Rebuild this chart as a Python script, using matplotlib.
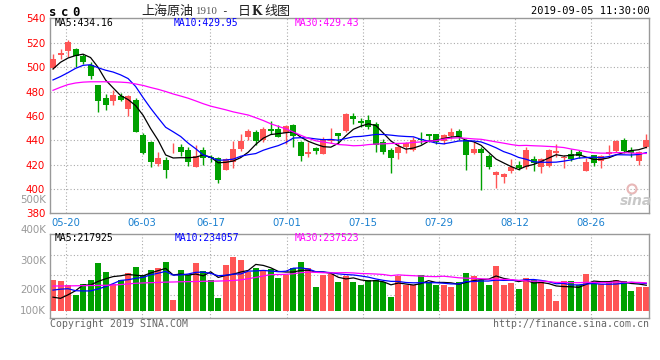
import numpy as np
import pandas as pd
import matplotlib
matplotlib.use('Agg')
import matplotlib.pyplot as plt
from matplotlib.patches import Ellipse

# daily candles 05-16 .. 09-05 (80 trading days)
opens = [499.2, 510, 513, 515.3, 509.4, 501.5, 485, 474.3, 472.4, 476.5,
         465.4, 473, 444.2, 438.7, 420.5, 423.7, 434.3, 434.1, 432, 418.3,
         432, 426.2, 425.1, 415.5, 421.8, 432.7, 442.8, 446.6, 440.1, 449.1,
         449.1, 446.1, 452.3, 438.7, 428.9, 433.3, 428.9, 439.5, 445.8, 447.4,
         459.7, 455.6, 456.4, 453.7, 438.7, 431.9, 429.2, 434.1, 431.9, 441.4,
         445, 445, 439.5, 443.4, 447.4, 440.1, 429.7, 433, 427.3, 411.4,
         409.5, 414.7, 419.6, 417.7, 424.3, 418.3, 418.8, 429.4, 425.6, 428.6,
         430.3, 415, 427.8, 423.2, 428.6, 431.1, 440.1, 431.9, 423.2, 434.6]
highs = [511, 515, 522, 515.5, 511, 504, 485.5, 477.6, 481, 478.4,
         477, 475, 445.8, 439.5, 430.3, 426, 437.4, 436.8, 434.1, 436,
         434.1, 428, 426.5, 425.1, 439.5, 445.5, 449.6, 448.3, 451, 455.6,
         452.3, 452.3, 453.7, 439, 438.7, 434.6, 442.8, 450.2, 446, 462.4,
         462.4, 458.4, 460.5, 455.1, 441.4, 433.3, 437.4, 438.7, 442.8, 446.6,
         445.2, 445.5, 445.5, 450.2, 449.1, 441.4, 438.7, 434.1, 428.6, 415,
         413.4, 424.3, 423.2, 434.1, 427, 425.1, 432.5, 436.8, 427.8, 432.5,
         431.9, 425.1, 428, 427.8, 436, 440.1, 442, 434.6, 430.8, 445]
lows = [498.5, 507, 508.3, 500, 502.5, 490.5, 463.2, 464.8, 468.9, 472.2,
        460.2, 447, 428.6, 418.2, 419.1, 408.8, 429.7, 427.3, 418.8, 417.7,
        419.4, 422, 405.2, 415.3, 417.5, 431, 440.1, 436, 438.7, 445.5,
        442.8, 437.3, 434.1, 423.2, 426.5, 428.4, 428.5, 437.9, 437.3, 446.9,
        453.7, 451, 449.6, 430.5, 428.6, 412.8, 424.3, 429.2, 431, 437.3,
        438.7, 437.3, 436.8, 441.4, 440.1, 415.5, 428.6, 399.2, 416.4, 400.5,
        405.2, 412.8, 415.5, 416.1, 415, 413.4, 418.3, 426.5, 417.4, 422.9,
        425.1, 414.5, 418.8, 417.4, 427.8, 430.5, 429.2, 426.5, 419.6, 433.3]
closes = [506.3, 512, 521, 509.4, 504.5, 492.5, 472, 469, 477, 473,
          476, 447.2, 429.2, 422.5, 425.1, 415.8, 434.8, 430.3, 422.4, 427.3,
          425.1, 425.5, 407.4, 424.3, 432.5, 439.3, 447.7, 439.5, 449.6, 447.4,
          443, 451.5, 443.4, 427.3, 430.5, 431.1, 441.4, 441.4, 443.4, 461.4,
          457.5, 454.3, 451, 436, 430, 425.6, 434.6, 437.4, 440.6, 440.1,
          443.4, 438.7, 444.2, 446.9, 442.3, 427.8, 432.7, 429.7, 418.3, 414.2,
          412.3, 417.7, 417.4, 431.9, 421.5, 424.3, 431.9, 431.1, 426.5, 424.6,
          427, 421.8, 421.5, 427, 430.5, 439.5, 431.1, 429.7, 430.5, 440.1]
volumes = [261, 252, 218, 133, 227, 261, 405, 329, 227, 261,
           320, 371, 303, 346, 363, 414, 91, 346, 303, 405,
           337, 261, 108, 388, 456, 431, 329, 363, 346, 354,
           278, 303, 363, 414, 363, 201, 303, 308, 244, 295,
           244, 218, 261, 261, 244, 116, 295, 218, 218, 303,
           244, 218, 218, 201, 244, 320, 295, 261, 218, 382,
           218, 235, 184, 278, 261, 244, 184, 85, 252, 252,
           218, 312, 225, 225, 252, 261, 252, 167, 201, 201]  # thousands

ma5_head = [498.5, 504, 507.5, 509.5]
ma10_head = [489.5, 492.3, 495.5, 499, 501.5, 502, 499.5, 497.5, 496]
ma30_head = [481, 483.5, 485.7, 487, 487.7, 488, 488, 488, 487.9, 487.7,
             487.3, 486.2, 485, 483.3, 481.8, 480, 478, 476.3, 474.5, 472.3,
             470, 468, 466.5, 465, 463.3, 462, 460.7, 458.5, 456.2]
vma5_head = [115, 105, 135, 170]
vma10_head = [175, 183, 187, 170, 168, 168, 185, 205, 230]
vma30_head = [210, 210, 211, 212, 213, 214, 215, 216, 218, 222,
              228, 233, 236, 238, 240, 243, 244, 246, 247, 248,
              250, 251, 252, 254, 257, 262, 272, 283, 295]

# latest MA values as printed on the chart
price_ma_text = ['MA5:434.16', 'MA10:429.95', 'MA30:429.43']
vol_ma_text = ['MA5:217925', 'MA10:234057', 'MA30:237523']

date_labels = ['05-20', '06-03', '06-17', '07-01', '07-15', '07-29', '08-12', '08-26']
date_idx = [2, 12, 21, 31, 41, 51, 61, 71]
price_ticks = [380, 400, 420, 440, 460, 480, 500, 520, 540]


def with_head(values, n, head):
    s = pd.Series(values, dtype=float).rolling(n).mean().to_numpy()
    s[:len(head)] = head
    return s


RED = '#ff5555'
GREEN = '#00a000'
GRID = '#aaaaaa'
BORDER = '#999999'
MONO = 'DejaVu Sans Mono'
MA_COLORS = ['black', '#0000ff', '#ff00ff']

o = np.array(opens); h = np.array(highs); l = np.array(lows); c = np.array(closes)
vol = np.array(volumes) * 1000.0
x = np.arange(len(c))
up = c >= o
cols = np.where(up, RED, GREEN)

ma5 = with_head(c, 5, ma5_head)
ma10 = with_head(c, 10, ma10_head)
ma30 = with_head(c, 30, ma30_head)
vma5 = with_head(vol, 5, np.array(vma5_head) * 1000)
vma10 = with_head(vol, 10, np.array(vma10_head) * 1000)
vma30 = with_head(vol, 30, np.array(vma30_head) * 1000)

fig = plt.figure(figsize=(6.6, 3.6), dpi=100)
W, H = 660.0, 360.0


def P(px, py):
    return px / W, 1 - py / H


ax = fig.add_axes([50 / W, 1 - 213.4 / H, 599.3 / W, 195 / H])
axv = fig.add_axes([50 / W, 1 - 318.3 / H, 599.3 / W, 84 / H])

# grid positions of the date lines (sina spaces them slightly wider than candles)
grid_x = 1.7 + (np.array(date_idx) - 2) * 1.014

for a in (ax, axv):
    a.set_xlim(-0.4, 79.4)
    for s in a.spines.values():
        s.set_color(BORDER)
        s.set_linewidth(1.0)
    for gx in grid_x:
        a.axvline(gx, color=GRID, lw=0.8, ls=(0, (1, 2)), zorder=0)

# price panel
ax.set_ylim(380, 540)
for p in price_ticks[1:-1]:
    ax.axhline(p, color=GRID, lw=0.8, ls=(0, (1, 2)), zorder=0)
ax.vlines(x, l, h, colors=cols, lw=1.0, zorder=2)
body = np.maximum(np.abs(c - o), 0.5)
ax.bar(x, body, bottom=np.minimum(o, c), width=0.8, color=cols, lw=0, zorder=3)
for line, col in zip((ma5, ma10, ma30), MA_COLORS):
    ax.plot(x, line, color=col, lw=0.9, zorder=4)

ax.set_yticks(price_ticks)
ax.set_yticklabels([str(t) for t in price_ticks], color='#ff0000', fontsize=7.4)
ax.set_xticks(grid_x)
ax.set_xticklabels(date_labels, color='#1a80d0', fontsize=7.2)
ax.tick_params(length=0, pad=3)
ax.tick_params(axis='y', pad=3.5)

for txt, col, px in zip(price_ma_text, MA_COLORS, [55, 174, 295]):
    fig.text(*P(px, 23.5), txt, color=col, family=MONO, fontsize=7, va='center')

# volume panel
span = 8500.0
y0, y1 = -7.6 * span, 76.4 * span
axv.set_ylim(y0, y1)
for fr in (0.274, 0.512, 0.754):
    axv.axhline(y0 + fr * (y1 - y0), color=GRID, lw=0.8, ls=(0, (1, 2)), zorder=0)
axv.bar(x, vol, width=0.8, color=cols, lw=0, zorder=2)
for line, col in zip((vma5, vma10, vma30), MA_COLORS):
    axv.plot(x, line, color=col, lw=0.9, zorder=3)
axv.set_xticks([])
axv.set_yticks([])

for txt, col, px in zip(vol_ma_text, MA_COLORS, [55, 175, 295]):
    fig.text(*P(px, 238.3), txt, color=col, family=MONO, fontsize=7, va='center')

# volume scale labels as sina prints them
for lab, py in [('500K', 200), ('400K', 230.5), ('300K', 261.3), ('200K', 290.3), ('100K', 310.7)]:
    fig.text(*P(46, py), lab, color='#999999', fontsize=7.4, ha='right', va='center')

# header
for ch, px in zip('sc0', [49, 61, 72.5]):
    fig.text(*P(px, 12), ch, family=MONO, fontweight='bold', fontsize=8.8, va='center')
cjk = ['Noto Sans CJK SC', 'DejaVu Sans']
fig.text(*P(141.5, 11.5), '上海原油', family=cjk, fontsize=9.4, va='center', color='#222222')
fig.text(*P(195, 11.5), '1910', family='Liberation Serif', fontsize=7.8, va='center', color='#555555')
fig.text(*P(221, 11.5), '-', family=MONO, fontsize=8, va='center', color='#222222')
fig.text(*P(238, 11.5), '日', family=cjk, fontsize=9.4, va='center', color='#222222')
fig.text(*P(251.5, 11.5), 'K', family='DejaVu Serif', fontweight='bold', fontsize=8.5, va='center', color='#222222')
fig.text(*P(264, 11.5), '线图', family=cjk, fontsize=9.4, va='center', color='#222222')
fig.text(*P(649.5, 11.5), '2019-09-05 11:30:00', family=MONO, fontsize=7.5, ha='right', va='center')

# footer
fig.text(*P(50, 323.7), 'Copyright 2019 SINA.COM', family=MONO, fontsize=7.1, color='#666666', va='center')
fig.text(*P(649.5, 323.7), 'http://finance.sina.com.cn', family=MONO, fontsize=7.1,
         color='#666666', ha='right', va='center')

# sina watermark
fig.text(*P(636, 201), 'sina', fontsize=10, fontweight='bold', style='italic',
         color='#c8c8c8', ha='center', va='center')
fig.add_artist(Ellipse(P(632, 189), 9 / W, 9 / H, fill=False, ec='#e8b8b8', lw=1.5))

fig.savefig('out.png', dpi=100)
